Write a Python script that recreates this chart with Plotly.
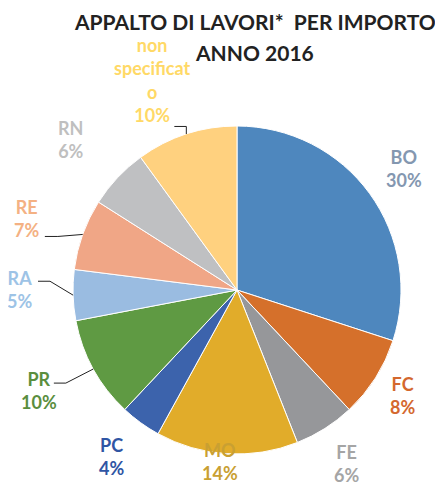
import math
import plotly.graph_objects as go

labels = ["BO", "FC", "FE", "MO", "PC", "PR", "RA", "RE", "RN", "non specificato"]
label_text = ["BO", "FC", "FE", "MO", "PC", "PR", "RA", "RE", "RN", "non<br>specificat<br>o"]
values = [30, 8, 6, 14, 4, 10, 5, 7, 6, 10]
slice_colors = ["#4E87BE", "#D5702B", "#96979A", "#E1AC2A", "#3C63AC",
                "#5F9A43", "#9ABCE1", "#F0A686", "#BFC0C2", "#FFD17F"]
label_colors = ["#8497B0", "#D4682E", "#A5A5A5", "#C9A032", "#2F55A4",
                "#5A8E3E", "#9DC3E6", "#F4B183", "#BFBFBF", "#FFD966"]
title_lines = ["APPALTO DI LAVORI*  PER IMPORTO", "ANNO 2016"]

OFF = 8  # page body margin compensation
W, H = 443 - OFF, 487 - OFF
CX, CY, R = 237 - OFF, 290 - OFF, 164
# label placement (distance from centre in px, angle offset in deg)
label_dist = [206, 196, 205, 172, 208, 222, 218, 222, 224, 226]
label_dang = [0, 0, 0, 2, 1, 2, 2, -1, -1, -4]
# leader lines: (x offset start, x offset elbow, y offset) relative to label centre
leaders = {5: (15, 27, -7), 6: (19, 31, -8), 7: (18, 31, 18), 9: (22, 34, 46)}

fig = go.Figure(go.Pie(
    labels=labels, values=values, sort=False, direction="clockwise",
    rotation=0, textinfo="none", hoverinfo="label+percent",
    marker=dict(colors=slice_colors, line=dict(color="white", width=1)),
    domain=dict(x=[(CX - R) / W, (CX + R) / W], y=[(H - CY - R) / H, (H - CY + R) / H]),
    showlegend=False,
))

total = sum(values)
cum = 0
annotations = []
shapes = []
for i, v in enumerate(values):
    mid = (cum + v / 2) / total * 360
    cum += v
    ang = math.radians(mid + label_dang[i])
    lx = CX + label_dist[i] * math.sin(ang)
    ly = CY - label_dist[i] * math.cos(ang)
    pct = round(v / total * 100)
    annotations.append(dict(
        x=lx / W, y=1 - ly / H, xref="paper", yref="paper",
        text=f"<b>{label_text[i]}<br>{pct}%</b>", showarrow=False,
        font=dict(family="Lato", size=18, color=label_colors[i]),
        xanchor="center", yanchor="middle", align="center",
    ))
    if i in leaders:
        sx, ex, dy = leaders[i]
        a = math.radians(mid)
        px = CX + R * math.sin(a)
        py = CY - R * math.cos(a)
        yy = ly + dy
        path = f"M {(lx+sx)/W} {1-yy/H} L {(lx+ex)/W} {1-yy/H} L {px/W} {1-py/H}"
        shapes.append(dict(type="path", xref="paper", yref="paper", path=path,
                           line=dict(color="#222222", width=1)))

for j, (t, ty) in enumerate(zip(title_lines, [22, 52])):
    annotations.append(dict(
        x=(255 - OFF) / W, y=1 - (ty - OFF) / H, xref="paper", yref="paper",
        text=f"<b>{t}</b>", showarrow=False,
        font=dict(family="Lato", size=21, color="#222222"),
        xanchor="center", yanchor="middle", align="center",
    ))

fig.update_layout(
    width=W, height=H, margin=dict(l=0, r=0, t=0, b=0),
    paper_bgcolor="white", plot_bgcolor="white",
    annotations=annotations, shapes=shapes,
)
fig.write_html("out.html")
